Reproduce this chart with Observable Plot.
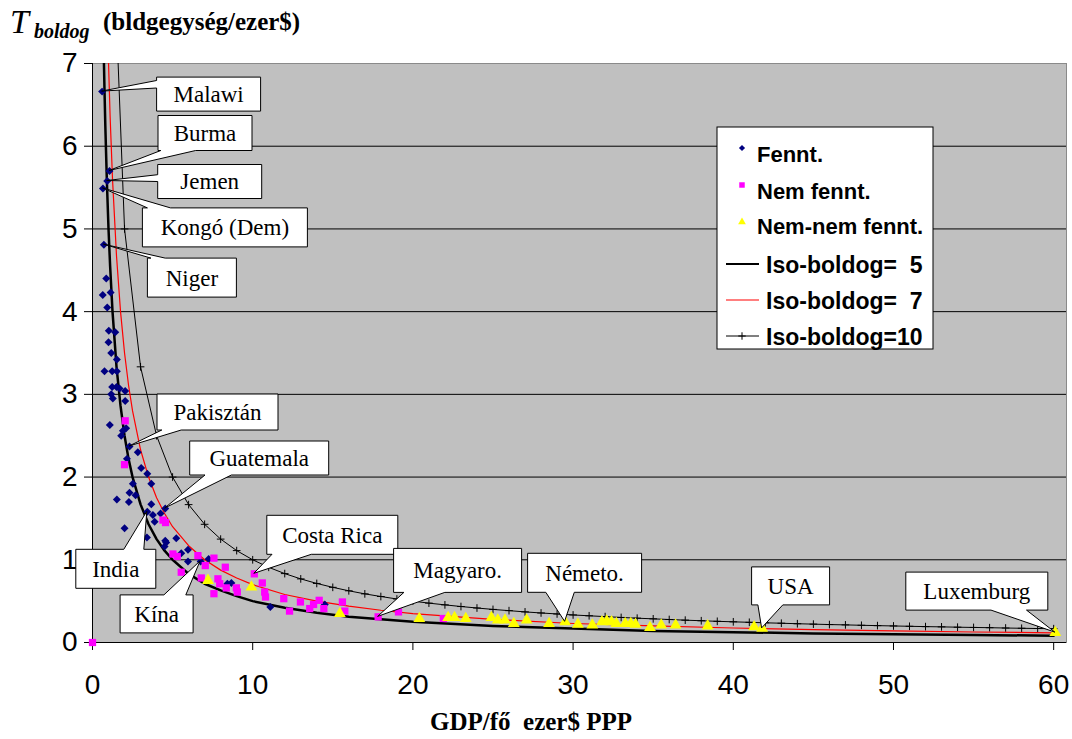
<!DOCTYPE html>
<html>
<head>
<meta charset="utf-8">
<script src="https://cdn.jsdelivr.net/npm/d3@7"></script>
<script src="https://cdn.jsdelivr.net/npm/@observablehq/plot@0.6"></script>
<style>
  body { margin: 0; background: #fff; }
  #wrap { position: relative; width: 1072px; height: 739px; overflow: hidden; background: #fff; }
  #title span { position: absolute; white-space: nowrap; line-height: 1; font-family: "Liberation Serif", "Times New Roman", serif; color: #000; }
  #title .T { font-size: 34px; font-style: italic; left: 10px; top: 4.5px; }
  #title .sub { font-size: 20px; font-style: italic; font-weight: bold; left: 34px; top: 21px; }
  #title .unit { font-size: 25px; font-weight: bold; left: 103px; top: 9px; }
  #chart { position: absolute; left: 0; top: 48px; }
  #xtitle { position: absolute; left: 0; width: 1062px; top: 709px; text-align: center; font-family: "Liberation Serif", "Times New Roman", serif; font-weight: bold; font-size: 25px; line-height: 1; white-space: pre; color: #000; }
</style>
</head>
<body>
<div id="wrap">
  <div id="title"><span class="T">T</span><span class="sub">boldog</span><span class="unit">(bldgegység/ezer$)</span></div>
  <div id="chart"></div>
  <div id="xtitle">GDP/fő  ezer$ PPP</div>
</div>
<script>
// ---------- DATA ----------
const xTicks = [0, 10, 20, 30, 40, 50, 60];
const yTicks = [0, 1, 2, 3, 4, 5, 6, 7];
const gridY = [1, 2, 3, 4, 5, 6];

// Fennt. (sustainable) countries: [GDP per capita (k$ PPP), T_boldog]
const fennt = [
  [0.6,6.66],[1.06,5.70],[0.92,5.58],[0.65,5.49],[0.71,4.81],[0.86,4.40],[0.64,4.20],[1.13,4.23],
  [0.92,4.05],[1.02,3.77],[1.42,3.75],[1.0,3.63],[1.17,3.50],[1.52,3.42],[0.75,3.28],[1.23,3.28],
  [1.52,3.28],[1.23,3.09],[1.5,3.09],[1.69,3.07],[1.17,3.0],[1.27,2.95],[2.04,3.04],[2.04,2.92],
  [1.08,2.63],[2.1,2.59],[1.9,2.56],[1.79,2.50],[2.31,2.37],[2.83,2.30],[2.15,2.22],[3.04,2.11],
  [3.42,2.04],[3.67,1.92],[2.52,1.92],[2.31,1.81],[2.69,1.78],[1.52,1.73],[2.27,1.70],[3.67,1.67],
  [4.54,1.62],[3.42,1.58],[3.77,1.54],[4.25,1.56],[3.88,1.46],[2.0,1.38],[3.4,1.27],[5.23,1.26],
  [4.54,1.23],[4.6,1.21],[4.5,1.16],[5.96,1.12],[5.54,1.08],[5.96,0.98],[6.75,0.98],[7.25,1.01],
  [8.42,0.71],[8.67,0.72],[11.1,0.43],[14.5,0.46]
];
// Nem fennt. (not sustainable)
const nemFennt = [
  [0,0],[2.04,2.68],[2.0,2.15],[4.4,1.48],[4.56,1.45],[5.02,1.07],[5.29,1.04],[6.58,1.05],
  [7.58,1.02],[5.54,0.85],[7.04,0.93],[6.79,0.78],[7.83,0.77],[7.94,0.71],[8.29,0.91],[8.98,0.66],
  [8.35,0.66],[7.58,0.59],[9.04,0.61],[10.1,0.83],[10.6,0.72],[10.75,0.61],[10.8,0.55],[11.94,0.53],
  [12.3,0.38],[12.98,0.49],[13.56,0.41],[13.8,0.46],[14.15,0.51],[14.44,0.41],[15.6,0.49],[15.75,0.38],
  [17.83,0.31],[19.1,0.37],[21.9,0.29]
];
// Nem-nem fennt. (doubly not sustainable)
const nemNemFennt = [
  [7.21,0.75],[9.92,0.67],[15.44,0.35],[20.4,0.29],[22.2,0.30],[22.6,0.30],[23.3,0.29],[24.9,0.30],
  [25.3,0.27],[25.75,0.27],[26.3,0.23],[27.1,0.27],[28.5,0.23],[29.5,0.25],[30.3,0.22],[31.2,0.21],
  [31.8,0.25],[32.1,0.26],[32.4,0.25],[32.7,0.23],[33.25,0.23],[33.6,0.23],[33.9,0.22],[34.8,0.18],
  [35.5,0.21],[36.4,0.21],[38.4,0.20],[41.3,0.19],[41.8,0.17],[60.1,0.12]
];

// Iso-boldog curves
const iso5X = [0.7,0.75,0.8,0.9,1,1.1,1.25,1.5,1.75,2,2.25,2.5,3,3.5,4,4.5,5,6,7,8,9,10,12,14,16,18,20,25,30,35,40,45,50,55,60];
const iso5Y = [7.14,6.67,6.25,5.56,5,4.55,4,3.33,2.86,2.5,2.22,2,1.67,1.43,1.25,1.11,1,0.83,0.71,0.63,0.56,0.5,0.42,0.36,0.31,0.28,0.25,0.2,0.17,0.14,0.125,0.11,0.1,0.09,0.083];
const iso7X = [0.98,1.1,1.25,1.5,1.75,2,2.25,2.5,3,3.5,4,4.5,5,6,7,8,9,10,12,14,16,18,20,25,30,35,40,45,50,55,60];
const iso7Y = [7.14,6.36,5.6,4.67,4,3.5,3.11,2.8,2.33,2,1.75,1.56,1.4,1.17,1,0.875,0.78,0.7,0.58,0.5,0.44,0.39,0.35,0.28,0.23,0.2,0.175,0.156,0.14,0.127,0.117];
const iso10X = [1,2,3,4,5,6,7,8,9,10,11,12,13,14,15,16,17,18,19,20,21,22,23,24,25,26,27,28,29,30,
                31,32,33,34,35,36,37,38,39,40,41,42,43,44,45,46,47,48,49,50,51,52,53,54,55,56,57,58,59,60];
const iso10Y = [10,5,3.333,2.5,2,1.667,1.429,1.25,1.111,1,0.909,0.833,0.769,0.714,0.667,0.625,0.588,0.556,0.526,0.5,
                0.476,0.455,0.435,0.417,0.4,0.385,0.37,0.357,0.345,0.333,0.323,0.313,0.303,0.294,0.286,0.278,0.27,0.263,0.256,0.25,
                0.244,0.238,0.233,0.227,0.222,0.217,0.213,0.208,0.204,0.2,0.196,0.192,0.189,0.185,0.182,0.179,0.175,0.172,0.169,0.167];

// Callout labels and the country each points at
const calloutLabels = ["Malawi","Burma","Jemen","Kongó (Dem)","Niger","Pakisztán","Guatemala","India","Kína","Costa Rica","Magyaro.","Németo.","USA","Luxemburg"];
const calloutX = [0.6,1.06,0.92,0.65,0.71,2.31,4.54,3.42,6.75,10.1,17.83,29.5,41.8,60.1];
const calloutY = [6.66,5.70,5.58,5.49,4.81,2.37,1.62,1.58,0.98,0.83,0.31,0.25,0.17,0.12];

const legendLabels = ["Fennt.","Nem fennt.","Nem-nem fennt.","Iso-boldog=  5","Iso-boldog=  7","Iso-boldog=10"];

// ---------- LAYOUT (pixels) ----------
// box offset from pointed point, size, wedge side and wedge base fractions
const calloutLayout = [
  {dx:55, dy:-14, w:104, h:34, side:"left",   a:0.10, b:0.32},
  {dx:49, dy:-55, w:94,  h:35, side:"bottom", a:0.03, b:0.40},
  {dx:51, dy:-16, w:104, h:34, side:"left",   a:0.30, b:0.50},
  {dx:40, dy:20,  w:165, h:39, side:"top",    a:0.03, b:0.17},
  {dx:44, dy:14,  w:89,  h:39, side:"top",    a:0.04, b:0.20},
  {dx:28, dy:-52, w:121, h:36, side:"bottom", a:0.04, b:0.20},
  {dx:25, dy:-67, w:139, h:34, side:"bottom", a:0.11, b:0.30},
  {dx:-71,dy:38,  w:80,  h:39, side:"top",    a:0.60, b:0.85},
  {dx:-80,dy:34,  w:73,  h:38, side:"top",    a:0.60, b:0.90},
  {dx:13, dy:-58, w:131, h:39, side:"bottom", a:0.04, b:0.34},
  {dx:16, dy:-68, w:128, h:44, side:"bottom", a:0.08, b:0.40},
  {dx:-37,dy:-68, w:114, h:39, side:"bottom", a:0.16, b:0.41},
  {dx:-10,dy:-61, w:78,  h:38, side:"bottom", a:0.08, b:0.40},
  {dx:-149,dy:-60,w:142, h:38, side:"bottom", a:0.60, b:0.85}
];

const NAVY = "#000080", MAGENTA = "#ff00ff", YELLOW = "#ffff00", RED = "#ff0000";

const iso5 = iso5X.map((x, i) => ({x, y: iso5Y[i]}));
const iso7 = iso7X.map((x, i) => ({x, y: iso7Y[i]}));
const iso10 = iso10X.map((x, i) => ({x, y: iso10Y[i]}));

const chart = Plot.plot({
  width: 1072,
  height: 660,
  marginLeft: 92,
  marginRight: 6,
  marginTop: 15,
  marginBottom: 66,
  style: {fontFamily: "'Liberation Sans', Arial, sans-serif", fontSize: "28px", color: "#000", background: "transparent", overflow: "visible"},
  x: {domain: [0, 60.8]},
  y: {domain: [0, 7]},
  marks: [
    Plot.frame({fill: "#c0c0c0", stroke: "#8a8a8a"}),
    Plot.ruleY(gridY, {stroke: "#000", strokeWidth: 1}),
    Plot.axisX({ticks: xTicks, tickSize: 8, tickPadding: 24, tickFormat: d => String(d), label: null}),
    Plot.axisY({ticks: yTicks, tickSize: 8, tickPadding: 7, tickFormat: d => String(d), label: null}),
    Plot.ruleX([0], {stroke: "#000", strokeWidth: 1}),
    Plot.ruleY([0], {stroke: "#000", strokeWidth: 1}),
    Plot.line(iso10, {x: "x", y: "y", stroke: "#000", strokeWidth: 1, clip: true}),
    Plot.dot(iso10, {x: "x", y: "y", symbol: "plus", r: 2.6, stroke: "#000", strokeWidth: 1, clip: true}),
    Plot.line(iso7, {x: "x", y: "y", stroke: RED, strokeWidth: 1.2, clip: true}),
    Plot.line(iso5, {x: "x", y: "y", stroke: "#000", strokeWidth: 2.5, clip: true}),
    Plot.dot(fennt, {x: d => d[0], y: d => d[1], symbol: "diamond2", r: 3.6, fill: NAVY, stroke: "none"}),
    Plot.dot(nemFennt, {x: d => d[0], y: d => d[1], symbol: "square", r: 4.1, fill: MAGENTA, stroke: "none"}),
    Plot.dot(nemNemFennt, {x: d => d[0], y: d => d[1], symbol: "triangle", r: 4.4, fill: YELLOW, stroke: "none"})
  ]
});
document.getElementById("chart").appendChild(chart);

const svg = d3.select(chart);
const sx = chart.scale("x"), sy = chart.scale("y");

// ---------- callouts ----------
function calloutPath(x0, y0, w, h, side, a, b, tx, ty) {
  const x1 = x0 + w, y1 = y0 + h;
  const p = [[x0, y0]];
  if (side === "top") p.push([x0 + a * w, y0], [tx, ty], [x0 + b * w, y0]);
  p.push([x1, y0]);
  if (side === "right") p.push([x1, y0 + a * h], [tx, ty], [x1, y0 + b * h]);
  p.push([x1, y1]);
  if (side === "bottom") p.push([x0 + b * w, y1], [tx, ty], [x0 + a * w, y1]);
  p.push([x0, y1]);
  if (side === "left") p.push([x0, y0 + b * h], [tx, ty], [x0, y0 + a * h]);
  return "M" + p.map(q => q[0].toFixed(1) + "," + q[1].toFixed(1)).join("L") + "Z";
}
const gC = svg.append("g").attr("class", "callouts");
calloutLabels.forEach((label, i) => {
  const L = calloutLayout[i];
  const tx = sx.apply(calloutX[i]), ty = sy.apply(calloutY[i]);
  const x0 = tx + L.dx, y0 = ty + L.dy;
  gC.append("path")
    .attr("d", calloutPath(x0, y0, L.w, L.h, L.side, L.a, L.b, tx, ty))
    .attr("fill", "#fff").attr("stroke", "#000").attr("stroke-width", 1)
    .attr("stroke-linejoin", "miter");
  gC.append("text")
    .attr("x", x0 + L.w / 2).attr("y", y0 + L.h / 2 + 8)
    .attr("text-anchor", "middle")
    .attr("font-family", "'Liberation Serif', 'Times New Roman', serif")
    .attr("font-size", 23).attr("fill", "#000")
    .text(label);
});

// ---------- legend ----------
const lg = svg.append("g").attr("class", "legend").attr("transform", "translate(717,79)");
lg.append("rect").attr("width", 216).attr("height", 222).attr("fill", "#fff").attr("stroke", "#000").attr("stroke-width", 1);
const rowY = [27, 64, 99, 138, 174, 210];
const sym = (type, size) => d3.symbol().type(type).size(size)();
// markers
lg.append("path").attr("d", sym(d3.symbolDiamond2, 24)).attr("transform", `translate(25,${rowY[0] - 6})`).attr("fill", NAVY);
lg.append("path").attr("d", sym(d3.symbolSquare, 30)).attr("transform", `translate(25,${rowY[1] - 6})`).attr("fill", MAGENTA);
lg.append("path").attr("d", sym(d3.symbolTriangle, 26)).attr("transform", `translate(25,${rowY[2] - 4})`).attr("fill", YELLOW);
// lines
lg.append("line").attr("x1", 9).attr("x2", 42).attr("y1", rowY[3] - 1).attr("y2", rowY[3] - 1).attr("stroke", "#000").attr("stroke-width", 2);
lg.append("line").attr("x1", 9).attr("x2", 42).attr("y1", rowY[4] - 1).attr("y2", rowY[4] - 1).attr("stroke", RED).attr("stroke-width", 1.2);
lg.append("line").attr("x1", 9).attr("x2", 42).attr("y1", rowY[5] - 1).attr("y2", rowY[5] - 1).attr("stroke", "#000").attr("stroke-width", 1);
lg.append("path").attr("d", sym(d3.symbolPlus, 20)).attr("transform", `translate(25,${rowY[5] - 1})`).attr("fill", "none").attr("stroke", "#000");
legendLabels.forEach((t, i) => {
  lg.append("text")
    .attr("x", i < 3 ? 40 : 49).attr("y", rowY[i] + 8)
    .attr("text-anchor", "start")
    .attr("font-family", "'Liberation Sans', Arial, sans-serif")
    .attr("font-weight", "bold").attr("font-size", i < 3 ? 22 : 23).attr("fill", "#000")
    .style("white-space", "pre")
    .text(t);
});
</script>
</body>
</html>
